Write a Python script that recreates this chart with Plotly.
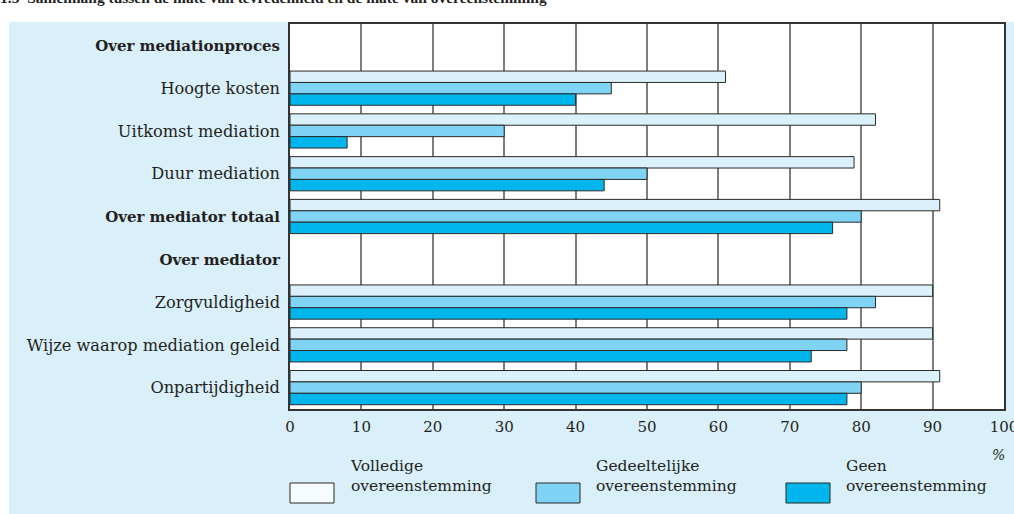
import plotly.graph_objects as go

# --- data -------------------------------------------------------------
categories = [
    "Over mediationproces",
    "Hoogte kosten",
    "Uitkomst mediation",
    "Duur mediation",
    "Over mediator totaal",
    "Over mediator",
    "Zorgvuldigheid",
    "Wijze waarop mediation geleid",
    "Onpartijdigheid",
]
headings = ["Over mediationproces", "Over mediator totaal", "Over mediator"]

volledig = [None, 61, 82, 79, 91, None, 90, 90, 91]
gedeeltelijk = [None, 45, 30, 50, 80, None, 82, 78, 80]
geen = [None, 40, 8, 44, 76, None, 78, 73, 78]

series_names = ["Volledige<br>overeenstemming",
                "Gedeeltelijke<br>overeenstemming",
                "Geen<br>overeenstemming"]
x_ticks = [0, 10, 20, 30, 40, 50, 60, 70, 80, 90, 100]

title = "1.5  Samenhang tussen de mate van tevredenheid en de mate van overeenstemming"

# --- style ------------------------------------------------------------
W, H = 1014, 514
L, R, T, B = 290, 10, 24, 105
BG = "#d9eff9"
colors = ["#daf0fb", "#7fd3f5", "#00b6ed"]
legend_fill = ["#f6fbfe", "#7fd3f5", "#00b6ed"]
SERIF = "DejaVu Serif"
TXT = "#231f20"


def px_x(x):
    return (x - L) / (W - L - R)


def px_y(y):
    return (H - B - y) / (H - T - B)


# section headings are bold and a touch smaller
ticktext = [f"<span style='font-size:15px'><b>{c}</b></span>" if c in headings else c
            for c in categories]

fig = go.Figure()
for name, vals, col in zip(series_names, [volledig, gedeeltelijk, geen], colors):
    fig.add_trace(go.Bar(
        y=categories,
        x=vals,
        name=name.replace("<br>", " "),
        orientation="h",
        marker=dict(color=col, line=dict(color="#2a2a2a", width=1)),
        showlegend=False,
    ))

fig.update_layout(
    width=W, height=H,
    margin=dict(l=L, r=R, t=T, b=B, autoexpand=False),
    paper_bgcolor=BG,
    plot_bgcolor="white",
    barmode="group",
    bargap=0.2,
    bargroupgap=0,
    font=dict(family=SERIF, size=15, color=TXT),
)

fig.update_xaxes(
    range=[0, 100],
    tickvals=x_ticks,
    showgrid=True, gridcolor="#7d7d7d", gridwidth=1.5,
    showline=True, linecolor="#333333", linewidth=1.5, mirror=True,
    zeroline=False,
    ticks="", ticklabelstandoff=3, ticklabeloverflow="allow",
    tickfont=dict(family=SERIF, size=15, color=TXT),
)
fig.update_yaxes(
    autorange="reversed",
    tickvals=categories, ticktext=ticktext,
    showgrid=False,
    showline=True, linecolor="#333333", linewidth=1.5, mirror=True,
    ticks="", ticklabelstandoff=5,
    tickfont=dict(family=SERIF, size=16.2, color=TXT),
)

# white page strips above and left of the light blue panel
fig.add_shape(type="rect", xref="paper", yref="paper", layer="below",
              x0=px_x(-5), x1=px_x(W + 5), y0=px_y(22), y1=px_y(-5),
              fillcolor="white", line=dict(width=0))
fig.add_shape(type="rect", xref="paper", yref="paper", layer="below",
              x0=px_x(-5), x1=px_x(9), y0=px_y(H + 5), y1=px_y(-5),
              fillcolor="white", line=dict(width=0))

# title, cut off at the top of the image
fig.add_annotation(text=f"<b>{title}</b>", xref="paper", yref="paper",
                   x=px_x(-2), y=px_y(8), xanchor="left", yanchor="bottom",
                   showarrow=False,
                   font=dict(family="Liberation Serif", size=15.5, color=TXT))

# axis unit
fig.add_annotation(text="<i>%</i>", xref="paper", yref="paper",
                   x=px_x(998), y=px_y(455), xanchor="center", yanchor="middle",
                   showarrow=False, font=dict(family=SERIF, size=14, color=TXT))

# legend: boxes and two-line labels
box_x = [290, 536, 786]
text_x = [348, 594, 844]
for name, fill, bx, tx in zip(series_names, legend_fill, box_x, text_x):
    fig.add_shape(type="rect", xref="paper", yref="paper",
                  x0=px_x(bx), x1=px_x(bx + 44), y0=px_y(503), y1=px_y(483),
                  fillcolor=fill, line=dict(color="#2a2a2a", width=1))
    fig.add_annotation(text=name, xref="paper", yref="paper",
                       x=px_x(tx), y=px_y(476), xanchor="left", yanchor="middle",
                       align="left", showarrow=False,
                       font=dict(family=SERIF, size=15.5, color=TXT))

fig.write_html("out.html", config={"displayModeBar": False},
               post_script="document.body.style.margin='0';")
